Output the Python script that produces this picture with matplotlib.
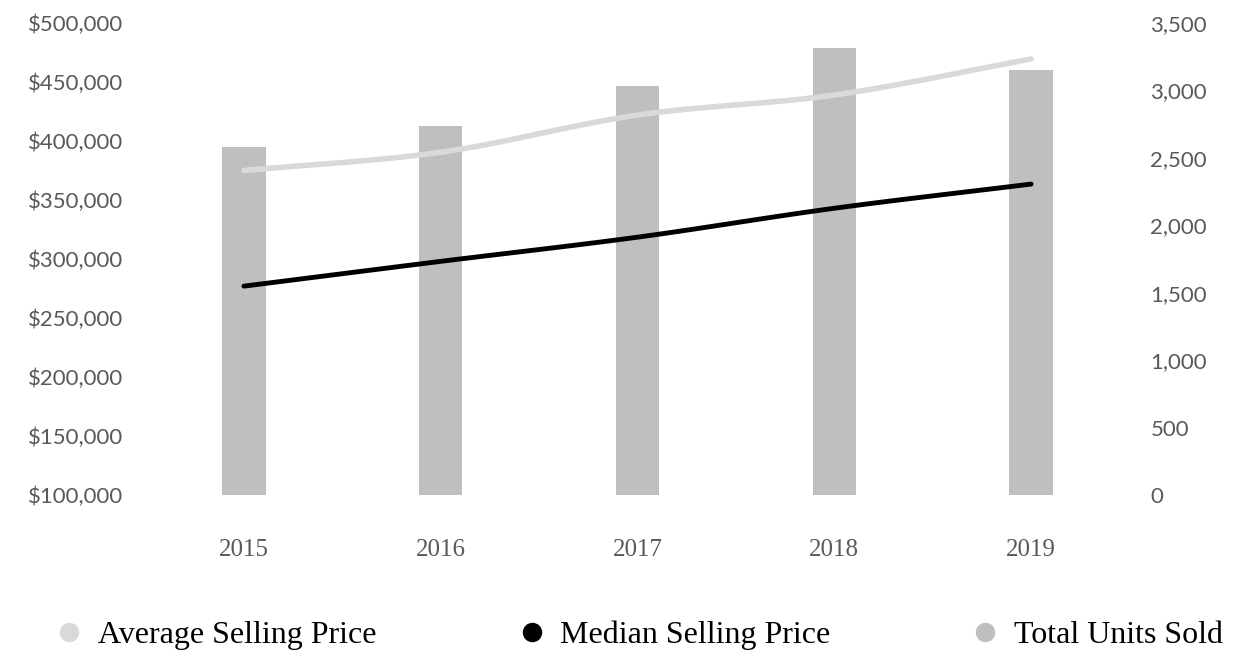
import numpy as np
import matplotlib.pyplot as plt
from matplotlib.lines import Line2D

years = ["2015", "2016", "2017", "2018", "2019"]
avg_price = [375000, 390500, 422000, 439000, 469500]
median_price = [277000, 298000, 318500, 343000, 363500]
units_sold = [2580, 2736, 3033, 3315, 3151]

left_ticks = [100000, 150000, 200000, 250000, 300000, 350000, 400000, 450000, 500000]
right_ticks = [0, 500, 1000, 1500, 2000, 2500, 3000, 3500]

c_avg = "#d9d9d9"
c_med = "#000000"
c_bar = "#bfbfbf"
c_tick = "#595959"


def smooth(x, y, n=30):
    # catmull-rom style smoothing like office charts
    x = np.asarray(x, float)
    y = np.asarray(y, float)
    px = np.concatenate([[2 * x[0] - x[1]], x, [2 * x[-1] - x[-2]]])
    py = np.concatenate([[2 * y[0] - y[1]], y, [2 * y[-1] - y[-2]]])
    xs, ys = [], []
    for i in range(1, len(px) - 2):
        t = np.linspace(0, 1, n)
        for arr, out in ((px, xs), (py, ys)):
            p0, p1, p2, p3 = arr[i - 1], arr[i], arr[i + 1], arr[i + 2]
            out.extend(0.5 * ((2 * p1) + (-p0 + p2) * t
                              + (2 * p0 - 5 * p1 + 4 * p2 - p3) * t ** 2
                              + (-p0 + 3 * p1 - 3 * p2 + p3) * t ** 3))
    return np.array(xs), np.array(ys)


fig = plt.figure(figsize=(12.46, 6.67), dpi=100)
ax = fig.add_axes([0.1168, 0.2579, 0.7897, 0.7076])
ax2 = ax.twinx()

x = np.arange(len(years))
ax2.bar(x, units_sold, width=0.22, color=c_bar)
ax2.set_ylim(0, 3500)
ax2.set_yticks(right_ticks)
ax2.set_yticklabels([f"{v:,}" for v in right_ticks])

sx, sy = smooth(x, avg_price)
ax.plot(sx, sy, color=c_avg, lw=4, solid_capstyle="round")
sx, sy = smooth(x, median_price)
ax.plot(sx, sy, color=c_med, lw=3.5, solid_capstyle="round")
ax.set_ylim(100000, 500000)
ax.set_yticks(left_ticks)
ax.set_yticklabels([f"${v:,}" for v in left_ticks])
ax.set_xlim(-0.5, 4.5)
ax.set_xticks(x)
ax.set_xticklabels(years)

ax.set_zorder(ax2.get_zorder() + 1)
ax.patch.set_visible(False)

for a in (ax, ax2):
    for s in a.spines.values():
        s.set_visible(False)
    a.tick_params(length=0)
for lab in ax.get_yticklabels() + ax2.get_yticklabels():
    lab.set_fontfamily("Lato")
    lab.set_fontsize(16)
    lab.set_color(c_tick)
ax.tick_params(axis="y", pad=16)
ax2.tick_params(axis="y", pad=15)
for lab in ax.get_xticklabels():
    lab.set_fontfamily("Liberation Serif")
    lab.set_fontsize(18)
    lab.set_color(c_tick)
ax.tick_params(axis="x", pad=32)

handles = [
    Line2D([], [], marker="o", ls="", color=c_avg, markersize=13),
    Line2D([], [], marker="o", ls="", color=c_med, markersize=13),
    Line2D([], [], marker="o", ls="", color=c_bar, markersize=13),
]
fig.legend(handles, ["Average Selling Price", "Median Selling Price", "Total Units Sold"],
           loc="center", bbox_to_anchor=(0.511, 0.047), ncol=3, frameon=False,
           prop={"family": "Liberation Serif", "size": 23},
           columnspacing=4.25, handletextpad=0.3, handlelength=1.2)

fig.savefig("out.png", dpi=100)
